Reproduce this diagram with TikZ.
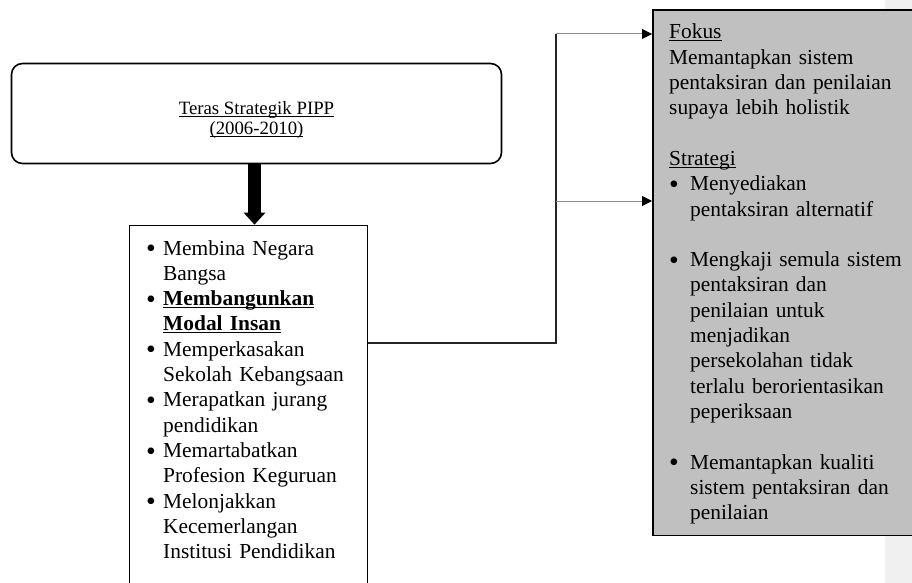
\documentclass[tikz,border=0pt]{standalone}
\usepackage{fontspec}
\usepackage{graphicx}
\setmainfont{Liberation Serif}
\usetikzlibrary{arrows.meta}
\definecolor{panelgray}{HTML}{C0C0C0}
\definecolor{margingray}{HTML}{F0F0F0}
\definecolor{feedgray}{HTML}{8C8C8C}
\newcommand{\uln}[1]{\underline{\raisebox{0pt}[\height][0pt]{#1}}}
\newcommand{\bltmark}[1]{\makebox[#1][l]{\raisebox{-2.6pt}{\scalebox{1.3}{\textbullet}}}}
\newcommand{\bltpad}[1]{\hspace*{#1}}
\begin{document}
\begin{tikzpicture}[x=1pt,y=-1pt]

    \tikzset{
      terasbox/.style={draw, line width=1.6pt, rounded corners=11pt,
        minimum width=490pt, minimum height=100pt, inner sep=0pt},
      corebox/.style={draw, line width=1.4pt, anchor=north west,
        minimum width=238pt, minimum height=420pt, inner sep=0pt},
      panel/.style={draw, line width=1.5pt, fill=panelgray, anchor=north west,
        minimum width=300pt, minimum height=525pt, inner sep=0pt},
      body/.style={anchor=base west, inner sep=0pt, text width=240pt,
        font=\fontsize{21.4}{25.3}\selectfont},
      title/.style={anchor=base, inner sep=0pt, align=center,
        font=\fontsize{18.8}{19.5}\selectfont},
      bigarrow/.style={line width=13pt, -{Triangle[width=21pt,length=12pt]}},
      link/.style={line width=1.8pt, black!85},
      feed/.style={line width=1pt, feedgray,
        -{Triangle[width=10pt,length=10pt,color=black]}},
    }
    \useasboundingbox (0,0) rectangle (912,583);
    \clip (0,0) rectangle (912,583);
    \fill[margingray] (885,0) rectangle (912,583);

    % boxes
    \node[terasbox] (teras) at (256.5,113.5) {};
    \node[title] (terasText) at (256.5,134.5) {\uln{Teras Strategik PIPP}\\\uln{(2006-2010)}};
    \node[corebox] (core) at (128.7,224.7) {};
    \node[panel] (panel) at (652,9.5) {};

    % texts
    \node[body] (coreText) at (146,255) {%
      \bltmark{17pt}Membina Negara\\
      \bltpad{17pt}Bangsa\\
      \bltmark{17pt}\uln{\textbf{Membangunkan}}\\
      \bltpad{17pt}\uln{\textbf{Modal Insan}}\\
      \bltmark{17pt}Memperkasakan\\
      \bltpad{17pt}Sekolah Kebangsaan\\
      \bltmark{17pt}Merapatkan jurang\\
      \bltpad{17pt}pendidikan\\
      \bltmark{17pt}Memartabatkan\\
      \bltpad{17pt}Profesion Keguruan\\
      \bltmark{17pt}Melonjakkan\\
      \bltpad{17pt}Kecemerlangan\\
      \bltpad{17pt}Institusi Pendidikan};
    \node[body] (panelText) at (669,39) {%
      \uln{Fokus}\\
      Memantapkan sistem\\
      pentaksiran dan penilaian\\
      supaya lebih holistik\\[25.3pt]
      \uln{Strategi}\\
      \bltmark{21pt}Menyediakan\\
      \bltpad{21pt}pentaksiran alternatif\\[25.3pt]
      \bltmark{21pt}Mengkaji semula sistem\\
      \bltpad{21pt}pentaksiran dan\\
      \bltpad{21pt}penilaian untuk\\
      \bltpad{21pt}menjadikan\\
      \bltpad{21pt}persekolahan tidak\\
      \bltpad{21pt}terlalu berorientasikan\\
      \bltpad{21pt}peperiksaan\\[25.3pt]
      \bltmark{21pt}Memantapkan kualiti\\
      \bltpad{21pt}sistem pentaksiran dan\\
      \bltpad{21pt}penilaian};

    % connectors
    \coordinate (hub) at (556,343);
    \coordinate (tapA) at (556,34);
    \coordinate (tapB) at (556,201);
    \draw[bigarrow] (teras.south -| 254.5,0) -- (254.5,0 |- core.north);
    \draw[link] (core.east |- hub) -- (hub) -- (tapA);
    \draw[feed] (tapA) -- (tapA -| panel.west);
    \draw[feed] (tapB) -- (tapB -| panel.west);

\end{tikzpicture}
\end{document}
